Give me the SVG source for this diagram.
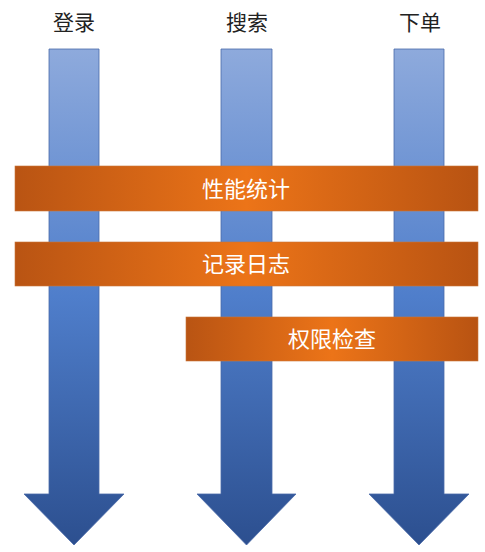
<svg xmlns="http://www.w3.org/2000/svg" width="485" height="552" viewBox="0 0 485 552">
<defs>
<linearGradient id="blue" x1="0" y1="0" x2="0" y2="1">
<stop offset="0" stop-color="#8eaadc"/>
<stop offset="0.5" stop-color="#4f7ecb"/>
<stop offset="1" stop-color="#2c4f8f"/>
</linearGradient>
<linearGradient id="orange" x1="0" y1="0" x2="1" y2="0">
<stop offset="0" stop-color="#b95413"/>
<stop offset="0.5" stop-color="#ec7418"/>
<stop offset="1" stop-color="#b85312"/>
</linearGradient>
<style>
.arrow{fill:url(#blue);stroke:#4a6aa8;stroke-width:0.8}
.bar{fill:url(#orange);stroke:#c8753a;stroke-width:0.6}
.lbl{font-family:"Noto Sans CJK SC","Noto Sans",sans-serif;font-size:21px;fill:#222;text-anchor:middle}
.blbl{font-family:"Noto Sans CJK SC","Noto Sans",sans-serif;font-size:22px;fill:#fff;text-anchor:middle}
</style>
</defs>
<g id="flow-login">
<polygon class="arrow" points="49,49 99,49 99,494 124,494 74,545 24,494 49,494"/>
<text class="lbl" x="74" y="30">登录</text>
</g>
<g id="flow-search">
<polygon class="arrow" points="221,49 272,49 272,494 296,494 246.5,545 197,494 221,494"/>
<text class="lbl" x="247" y="30">搜索</text>
</g>
<g id="flow-order">
<polygon class="arrow" points="394,49 444,49 444,494 469,494 419,545 369,494 394,494"/>
<text class="lbl" x="420" y="30">下单</text>
</g>
<g id="perf">
<rect class="bar" x="15" y="166" width="463" height="45"/>
<text class="blbl" x="246" y="197">性能统计</text>
</g>
<g id="log">
<rect class="bar" x="15" y="242" width="463" height="44"/>
<text class="blbl" x="246" y="272">记录日志</text>
</g>
<g id="auth">
<rect class="bar" x="186" y="317" width="292" height="44"/>
<text class="blbl" x="332" y="347">权限检查</text>
</g>
<g id="connectors"></g>
</svg>
